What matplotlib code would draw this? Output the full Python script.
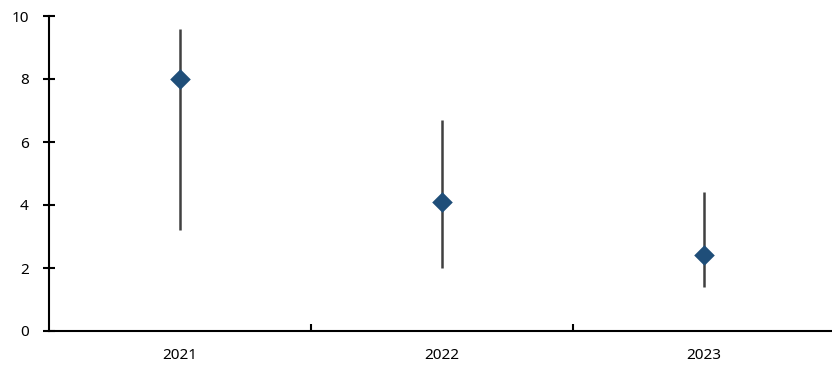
import matplotlib.pyplot as plt
from matplotlib.ticker import FixedLocator

# values
years = ["2021", "2022", "2023"]
point = [8.0, 4.1, 2.4]
low = [3.2, 2.0, 1.4]
high = [9.6, 6.7, 4.4]

plt.rcParams['font.family'] = ['Noto Sans', 'DejaVu Sans']

fig = plt.figure(figsize=(8.32, 3.66), dpi=100)
ax = fig.add_axes([49 / 832, 1 - 331 / 366, 1 - 49 / 832, (331 - 16) / 366])

x = list(range(len(years)))
ax.vlines(x, low, high, color="#404040", linewidth=1.8, zorder=2)
ax.scatter(x, point, marker="D", s=110, color="#1F4E79", zorder=3, linewidths=0)

ax.set_xlim(-0.5, 2.49)
ax.set_ylim(0, 10)
ax.set_yticks(range(0, 11, 2))
ax.set_xticks(x)
ax.set_xticklabels(years)
ax.xaxis.set_minor_locator(FixedLocator([0.5, 1.5]))

ax.tick_params(axis="x", which="major", length=0, pad=12, labelsize=11)
ax.tick_params(axis="x", which="minor", direction="in", length=5, width=1.5)
ax.tick_params(axis="y", direction="inout", length=9, width=1.5, pad=10, labelsize=11)

for s in ["top", "right"]:
    ax.spines[s].set_visible(False)
for s in ["left", "bottom"]:
    ax.spines[s].set_linewidth(1.5)

fig.savefig("out.png", dpi=100)
